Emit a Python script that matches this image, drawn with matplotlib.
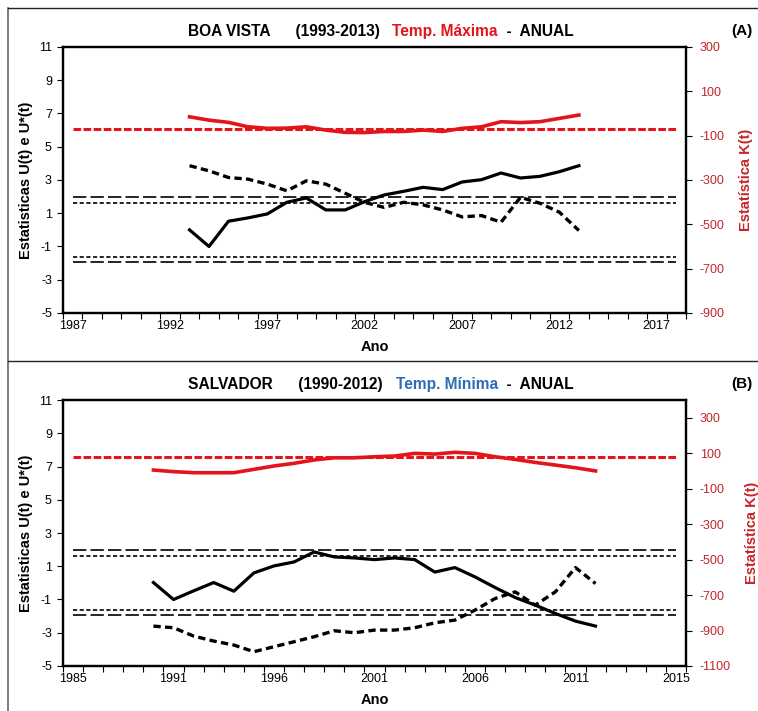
import matplotlib
matplotlib.use("Agg")
import matplotlib.pyplot as plt
from matplotlib.lines import Line2D
from matplotlib.offsetbox import TextArea, HPacker, AnchoredOffsetbox

plt.rcParams['font.family'] = ['Liberation Sans', 'DejaVu Sans']
plt.rcParams['axes.unicode_minus'] = False

# ---------------- dados ----------------
# (A) Boa Vista, temp. maxima, 1993-2013
anos_bv = list(range(1993, 2014))
u_bv = [0.0, -1.0, 0.52, 0.72, 0.96, 1.66, 1.92, 1.2, 1.2, 1.7, 2.1,
        2.32, 2.56, 2.42, 2.88, 3.02, 3.42, 3.12, 3.22, 3.5, 3.86]
us_bv = [3.86, 3.55, 3.15, 3.05, 2.75, 2.35, 2.95, 2.75, 2.2, 1.65, 1.35,
         1.66, 1.5, 1.2, 0.78, 0.86, 0.46, 1.96, 1.6, 1.06, -0.04]
k_bv = [-15, -30, -40, -60, -67, -66, -60, -75, -85, -86, -81,
        -81, -75, -81, -67, -60, -37, -41, -37, -22, -7]
kref_bv = -70
cat_bv = (1987, 2018)
xt_bv = [1987, 1992, 1997, 2002, 2007, 2012, 2017]
xtl_bv = ['1987', '1992', '1997', '2002', '2007', '2012', '2017']
kt_bv = [300, 100, -100, -300, -500, -700, -900]

# (B) Salvador, temp. minima, 1990-2012
anos_sa = list(range(1990, 2013))
u_sa = [0.02, -1.0, -0.48, 0.02, -0.5, 0.6, 1.02, 1.26, 1.86, 1.56, 1.5, 1.4,
        1.5, 1.4, 0.65, 0.92, 0.36, -0.28, -0.88, -1.34, -1.84, -2.3, -2.6]
us_sa = [-2.6, -2.7, -3.2, -3.5, -3.74, -4.14, -3.84, -3.54, -3.24, -2.88, -3.0, -2.84,
         -2.84, -2.7, -2.4, -2.24, -1.64, -0.94, -0.54, -1.34, -0.54, 0.92, -0.04]
k_sa = [5, -4, -10, -10, -10, 9, 28, 43, 62, 74, 74, 80,
        84, 99, 95, 105, 99, 80, 65, 48, 33, 18, 0]
kref_sa = 80
cat_sa = (1986, 2016)
xt_sa = [1986, 1991, 1996, 2001, 2006, 2011, 2016]
xtl_sa = ['1985', '1991', '1996', '2001', '2006', '2011', '2015']
kt_sa = [300, 100, -100, -300, -500, -700, -900, -1100]

u_ticks = [11, 9, 7, 5, 3, 1, -1, -3, -5]
lim95 = 1.96
lim90 = 1.645

RED = '#E3151A'
DARKRED = '#C3262B'
BLUE = '#2E6DB4'

fig = plt.figure(figsize=(7.58, 7.11), dpi=100)


def painel(rect, anos, u, us, k, kref, cat, xt, xtl, kt, klim,
           cidade, periodo, variavel, cor_var, letra):
    ax = fig.add_axes(rect)
    x0, x1 = cat
    # limites de significancia
    for v in (lim95, -lim95):
        ax.plot([x0, x1], [v, v], color='black', lw=1.2, ls=(0, (8, 2.5)))
    for v in (lim90, -lim90):
        ax.plot([x0, x1], [v, v], color='black', lw=1.2, ls=(0, (2.5, 1.5)))
    ax.plot(anos, u, color='black', lw=2.3)
    ax.plot(anos, us, color='black', lw=2.4, ls=(0, (2.2, 1.3)))
    ax.set_xlim(x0 - 0.5, x1 + 0.5)
    ax.set_ylim(-5, 11)
    ax.set_yticks(u_ticks)
    ax.set_xticks(xt)
    ax.set_xticklabels(xtl)
    ax.set_xticks([a + 0.5 for a in range(x0 - 1, x1 + 1)], minor=True)
    ax.tick_params(axis='x', which='major', length=0, pad=5, labelsize=9)
    ax.tick_params(axis='x', which='minor', length=4, direction='out', width=0.8)
    ax.tick_params(axis='y', length=4, direction='out', labelsize=9, pad=4)
    for s in ax.spines.values():
        s.set_linewidth(1.6)
    ax.set_ylabel('Estatisticas U(t) e U*(t)', fontsize=10.5, fontweight='bold', labelpad=4)
    ax.set_xlabel('Ano', fontsize=10.5, fontweight='bold', labelpad=6)

    ax2 = ax.twinx()
    ax2.plot([x0, x1], [kref, kref], color=RED, lw=2.2, ls=(0, (2.5, 0.8)))
    ax2.plot(anos, k, color=RED, lw=2.6)
    ax2.set_ylim(*klim)
    ax2.set_yticks(kt)
    ax2.tick_params(axis='y', length=4, direction='out', labelsize=9,
                    labelcolor=DARKRED, pad=6)
    ax2.set_ylabel('Estatística K(t)', fontsize=10.5, fontweight='bold',
                   color=DARKRED, labelpad=10)
    for s in ax2.spines.values():
        s.set_linewidth(1.6)

    tp = dict(fontsize=11.2, fontweight='bold')
    partes = [
        TextArea(cidade + '      ' + periodo + '   ', textprops=dict(color='black', **tp)),
        TextArea(variavel, textprops=dict(color=cor_var, **tp)),
        TextArea('  -  ANUAL', textprops=dict(color='black', **tp)),
    ]
    caixa = HPacker(children=partes, align='baseline', pad=0, sep=0)
    anc = AnchoredOffsetbox(loc='lower center', child=caixa, pad=0, borderpad=0,
                            bbox_to_anchor=(0.51, 1.03), bbox_transform=ax.transAxes,
                            frameon=False)
    ax.add_artist(anc)
    ax.text(1.09, 1.06, letra, transform=ax.transAxes, fontsize=11,
            fontweight='bold', ha='center', va='center')
    return ax


painel([0.0831, 0.5598, 0.8219, 0.3741], anos_bv, u_bv, us_bv, k_bv, kref_bv,
       cat_bv, xt_bv, xtl_bv, kt_bv, (-900, 300),
       'BOA VISTA', '(1993-2013)', 'Temp. Máxima', RED, '(A)')
painel([0.0831, 0.0633, 0.8219, 0.3741], anos_sa, u_sa, us_sa, k_sa, kref_sa,
       cat_sa, xt_sa, xtl_sa, kt_sa, (-1100, 400),
       'SALVADOR', '(1990-2012)', 'Temp. Mínima', BLUE, '(B)')

# moldura
bx = 8 / 758
by = 1 - 8 / 711
sep = 1 - 361 / 711
fig.add_artist(Line2D([bx, bx], [0, by], color='#666666', lw=1.2, transform=fig.transFigure))
fig.add_artist(Line2D([bx, 1], [by, by], color='#222222', lw=1.0, transform=fig.transFigure))
fig.add_artist(Line2D([bx, 1], [sep, sep], color='#222222', lw=1.0, transform=fig.transFigure))

fig.savefig('out.png', dpi=100)
